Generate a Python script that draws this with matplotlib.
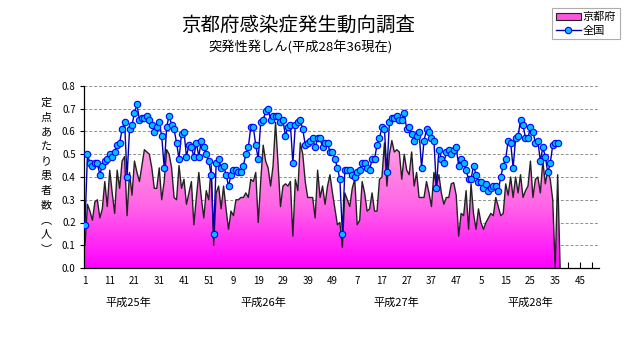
import numpy as np
import matplotlib
matplotlib.use("Agg")
from matplotlib import pyplot as plt
from matplotlib.colors import LinearSegmentedColormap
from matplotlib.patches import Rectangle
from matplotlib.lines import Line2D

plt.rcParams["font.family"] = ["Noto Sans CJK JP", "DejaVu Sans"]

# weekly values, 平成25年 week 1 onwards
kyoto = [
    0.10, 0.28, 0.25, 0.21, 0.29, 0.30, 0.22, 0.26, 0.38, 0.27,
    0.43, 0.33, 0.24, 0.43, 0.35, 0.47, 0.49, 0.23, 0.42, 0.32,
    0.47, 0.42, 0.38, 0.45, 0.52, 0.51, 0.50, 0.44, 0.35, 0.35,
    0.44, 0.30, 0.38, 0.52, 0.50, 0.44, 0.31, 0.30, 0.45, 0.35,
    0.39, 0.28, 0.33, 0.38, 0.19, 0.31, 0.42, 0.31, 0.22, 0.34,
    0.30, 0.45, 0.10, 0.33, 0.36, 0.26, 0.36, 0.26, 0.17, 0.25,
    0.23, 0.30, 0.30, 0.31, 0.31, 0.33, 0.31, 0.39, 0.38, 0.42,
    0.20, 0.38, 0.54, 0.47, 0.44, 0.36, 0.45, 0.64, 0.46, 0.27,
    0.36, 0.37, 0.36, 0.38, 0.14, 0.39, 0.34, 0.55, 0.50, 0.38,
    0.31, 0.31, 0.31, 0.22, 0.43, 0.31, 0.36, 0.28, 0.36, 0.41,
    0.33, 0.26, 0.19, 0.20, 0.09, 0.33, 0.30, 0.27, 0.35, 0.39,
    0.19, 0.21, 0.38, 0.33, 0.25, 0.26, 0.33, 0.25, 0.25, 0.39,
    0.40, 0.55, 0.36, 0.50, 0.56, 0.51, 0.52, 0.51, 0.39, 0.50,
    0.43, 0.41, 0.51, 0.36, 0.42, 0.31, 0.31, 0.31, 0.38, 0.33,
    0.27, 0.42, 0.36, 0.41, 0.33, 0.28, 0.31, 0.31, 0.37, 0.375,
    0.32, 0.14, 0.24, 0.23, 0.34, 0.17, 0.37, 0.24, 0.17, 0.26,
    0.20, 0.17, 0.20, 0.22, 0.24, 0.23, 0.31, 0.27, 0.23, 0.24,
    0.37, 0.32, 0.40, 0.31, 0.40, 0.33, 0.41, 0.31, 0.34, 0.36,
    0.47, 0.31, 0.39, 0.40, 0.33, 0.47, 0.37, 0.43, 0.39, 0.30,
    0.0, 0.41, 0.0,
]

national = [
    0.19, 0.50, 0.46, 0.45, 0.46, 0.46, 0.41, 0.45, 0.47, 0.48,
    0.50, 0.49, 0.51, 0.54, 0.55, 0.61, 0.64, 0.40, 0.61, 0.63,
    0.68, 0.72, 0.65, 0.66, 0.66, 0.67, 0.65, 0.63, 0.60, 0.62,
    0.64, 0.58, 0.44, 0.62, 0.67, 0.63, 0.61, 0.55, 0.48, 0.59,
    0.60, 0.49, 0.54, 0.53, 0.49, 0.55, 0.49, 0.56, 0.53, 0.50,
    0.47, 0.41, 0.15, 0.46, 0.48, 0.44, 0.45, 0.41, 0.36, 0.41,
    0.43, 0.43, 0.42, 0.42, 0.45, 0.50, 0.53, 0.62, 0.62, 0.54,
    0.48, 0.64, 0.65, 0.69, 0.70, 0.65, 0.67, 0.67, 0.67, 0.64,
    0.65, 0.58, 0.62, 0.63, 0.46, 0.63, 0.64, 0.65, 0.61, 0.54,
    0.55, 0.56, 0.57, 0.53, 0.57, 0.57, 0.53, 0.55, 0.55, 0.51,
    0.51, 0.48, 0.44, 0.39, 0.15, 0.43, 0.43, 0.43, 0.41, 0.40,
    0.42, 0.43, 0.46, 0.46, 0.44, 0.43, 0.48, 0.48, 0.54, 0.57,
    0.62, 0.61, 0.42, 0.64, 0.66, 0.66, 0.67, 0.65, 0.65, 0.68,
    0.61, 0.62, 0.59, 0.56, 0.58, 0.60, 0.44, 0.56, 0.61, 0.60,
    0.57, 0.56, 0.35, 0.52, 0.48, 0.46, 0.51, 0.52, 0.50, 0.52,
    0.53, 0.45, 0.48, 0.46, 0.43, 0.39, 0.39, 0.45, 0.41, 0.38,
    0.38, 0.35, 0.37, 0.34, 0.35, 0.36, 0.36, 0.34, 0.40, 0.45,
    0.48, 0.56, 0.55, 0.44, 0.57, 0.58, 0.65, 0.63, 0.57, 0.57,
    0.62, 0.60, 0.55, 0.56, 0.47, 0.53, 0.49, 0.42, 0.46, 0.54,
    0.55, 0.55,
]

week_labels = ["1", "11", "21", "31", "41", "51", "9", "19", "29", "39", "49",
               "7", "17", "27", "37", "47", "5", "15", "25", "35", "45"]
years = ["平成25年", "平成26年", "平成27年", "平成28年"]
year_pos = [17.5, 72, 126, 180]

W, H = 631, 347
fig = plt.figure(figsize=(W / 100, H / 100), dpi=100)
ax = fig.add_axes([84 / W, (H - 268) / H, (599 - 84) / W, (268 - 86) / H])

xk = np.arange(len(kyoto))
xn = np.arange(len(national))

# gradient area for Kyoto
poly = ax.fill_between(xk, kyoto, 0, facecolor="none", edgecolor="none")
cmap = LinearSegmentedColormap.from_list(
    "pk", [(0, "#ff00ff"), (0.45, "#ff66e6"), (1, "#ffb0e0")])
grad = np.linspace(0, 1, 256).reshape(-1, 1)
im = ax.imshow(grad, cmap=cmap, aspect="auto", origin="lower",
               extent=[0, len(kyoto), 0, 0.62], zorder=1)
im.set_clip_path(poly.get_paths()[0], transform=ax.transData)
ax.plot(xk, kyoto, color="#222222", lw=1.0, zorder=2)

ax.plot(xn, national, color="#0000aa", lw=1.0, marker="o", ms=4.6,
        mfc="#00bfff", mec="#0000ff", mew=0.8, zorder=3)

ax.set_xlim(-0.4, 207.7)
ax.set_ylim(0, 0.8)
ax.set_yticks(np.arange(0, 0.81, 0.1))
ax.set_yticklabels([f"{v:.1f}" for v in np.arange(0, 0.81, 0.1)], fontsize=7)
ax.set_xticks(np.arange(0, 201, 10))
ax.set_xticklabels(week_labels, fontsize=7)
ax.set_xticks(np.arange(0, 208, 5), minor=True)
ax.tick_params(axis="x", which="both", direction="in", length=4, width=0.8, pad=6)
ax.tick_params(axis="y", direction="out", length=3, width=0.8, pad=3)
ax.grid(axis="y", color="#909090", ls=(0, (3, 2)), lw=0.7)
ax.set_axisbelow(True)
for s in ["top", "right"]:
    ax.spines[s].set_visible(False)
ax.spines["left"].set_linewidth(0.9)
ax.spines["bottom"].set_linewidth(0.9)

for lab, p in zip(years, year_pos):
    ax.text(p, -0.19, lab, fontsize=8, ha="center", va="center",
            transform=ax.get_xaxis_transform())

# vertical y label
ylab = ["定", "点", "あ", "た", "り", "患", "者", "数", "︵", "人", "︶"]
for k, ch in enumerate(ylab):
    fig.text(46 / W, 1 - (103 + 14.6 * k) / H, ch, fontsize=8,
             ha="center", va="center")

fig.text(298 / W, 1 - 25 / H, "京都府感染症発生動向調査", fontsize=14,
         ha="center", va="center")
fig.text(301 / W, 1 - 48 / H, "突発性発しん(平成28年36現在)", fontsize=9.5,
         ha="center", va="center")

handles = [Rectangle((0, 0), 1, 1, facecolor="#ff55dd", edgecolor="#222222", lw=0.8),
           Line2D([], [], color="#0000aa", lw=1.0, marker="o", ms=4.6,
                  mfc="#00bfff", mec="#0000ff", mew=0.8)]
leg = ax.legend(handles, ["京都府", "全国"], loc="upper right",
                bbox_to_anchor=(620 / W, 1 - 8 / H), bbox_transform=fig.transFigure,
                fontsize=8, frameon=True, fancybox=False, handlelength=2.2,
                handleheight=0.6, borderpad=0.35, labelspacing=0.3,
                handletextpad=0.2, borderaxespad=0)
leg.get_frame().set_edgecolor("#999999")
leg.get_frame().set_linewidth(0.8)

fig.savefig("out.png", dpi=100)
